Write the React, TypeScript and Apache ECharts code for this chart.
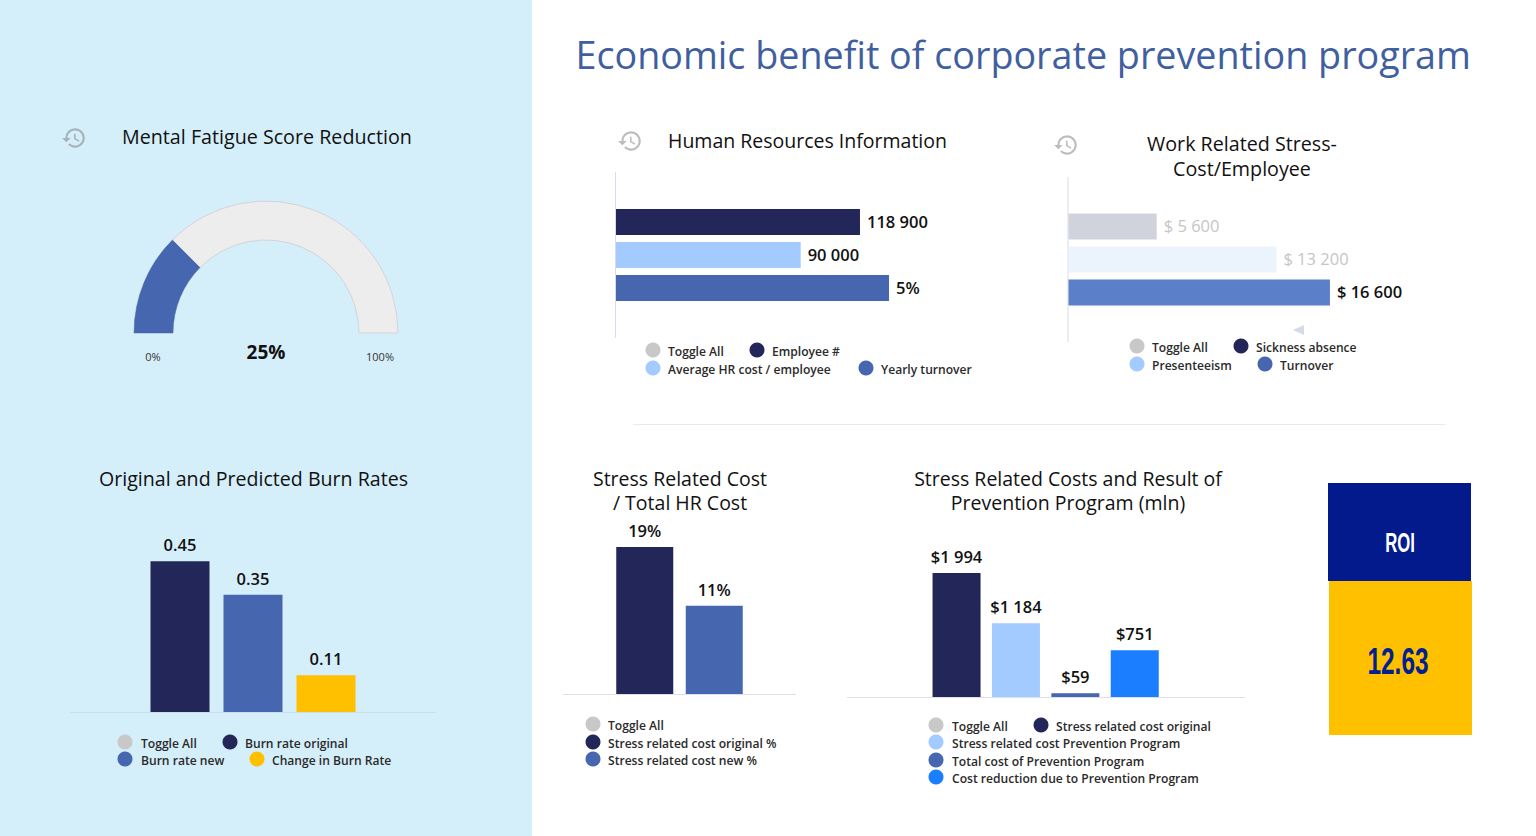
import React, { useEffect, useRef } from "react";
import * as echarts from "echarts";

const FONT = '"Open Sans", sans-serif';
const NARROW = '"Liberation Sans", sans-serif';
const NAVY = "#222658", BLUE = "#4666AF", LIGHT = "#A3CBFF", BRIGHT = "#1A7EFF", AMBER = "#FFC000", TOGGLE = "#C8C8C8";

const pageTitle = "Economic benefit of corporate prevention program";
const gaugeValue = 25;

const hrCats = ["Employee #", "Average HR cost / employee", "Yearly turnover"];
const hrAmounts = [118900, 90000, null];
const hrPercent = [null, null, 5];

const stressCats = ["Sickness absence", "Presenteeism", "Turnover"];
const stressValues = [5600, 13200, 16600];
const stressLabels = ["$ 5 600", "$ 13 200", "$ 16 600"];

const burnCats = ["Burn rate original", "Burn rate new", "Change in Burn Rate"];
const burnValues = [0.45, 0.35, 0.11];

const ratioCats = ["Stress related cost original %", "Stress related cost new %"];
const ratioValues = [19, 11.4];
const ratioLabels = ["19%", "11%"];

const costCats = ["Stress related cost original", "Stress related cost Prevention Program", "Total cost of Prevention Program", "Cost reduction due to Prevention Program"];
const costValues = [1994, 1184, 59, 751];
const costLabels = ["$1 994", "$1 184", "$59", "$751"];

const roiLabel = "ROI";
const roiValue = "12.63";

const HISTORY = "M13 3a9 9 0 0 0-9 9H1l3.89 3.89.07.14L9 12H6c0-3.87 3.13-7 7-7s7 3.13 7 7-3.13 7-7 7c-1.93 0-3.68-.79-4.94-2.06l-1.42 1.42C8.27 19.99 10.51 21 13 21c4.97 0 9-4.03 9-9s-4.03-9-9-9zm-1 5v5l4.28 2.54.72-1.21-3.5-2.08V8H12z";
echarts.graphic.registerShape("historyIcon", echarts.graphic.extendPath(HISTORY, {}));

const text = (t: string, x: number, y: number, size: number, fill: string, weight: any = 400, align = "left", family = FONT, scaleX = 1) => ({
  type: "text", x, y, z: 5, scaleX,
  style: { text: t, fontSize: size, fontWeight: weight, fill, fontFamily: family, textAlign: align, textVerticalAlign: "middle" },
});
const line = (x1: number, y1: number, x2: number, y2: number, stroke: string, lineWidth = 1) => ({
  type: "line", z: 1, shape: { x1, y1, x2, y2 }, style: { stroke, lineWidth },
});
const icon = (x: number, y: number, fill: string) => ({
  type: "historyIcon", x, y, scaleX: 1.08, scaleY: 1.08, z: 5, style: { fill },
});
const legend = (items: [string, string, number, number, number][]) =>
  items.flatMap(([name, color, cx, tx, y]) => [
    { type: "circle", z: 5, shape: { cx, cy: y - 1, r: 7.5 }, style: { fill: color } },
    text(name, tx, y, 12.1, "#2A2A2A", 600),
  ]);

function vbarGrid(left: number, width: number, baseline: number, height: number) {
  return { left, width, top: baseline - height, height, containLabel: false };
}
function vbarSeries(xIdx: number, yIdx: number, values: number[], colors: string[], barWidth: number, labels?: string[]) {
  return {
    type: "bar", xAxisIndex: xIdx, yAxisIndex: yIdx, barWidth, silent: true,
    data: values.map((value, i) => ({ value, itemStyle: { color: colors[i] } })),
    label: {
      show: true, position: "top", distance: 8, color: "#111", fontFamily: FONT, fontWeight: 600, fontSize: 16.5,
      formatter: (p: any) => (labels ? labels[p.dataIndex] : String(p.value)),
    },
  };
}
const hiddenCat = (cats: string[], gridIndex: number, extra: any = {}) => ({ type: "category", data: cats, gridIndex, show: false, ...extra });
const hiddenVal = (gridIndex: number, max: number) => ({ type: "value", gridIndex, min: 0, max, show: false, splitLine: { show: false } });

export default function App() {
  const ref = useRef<HTMLDivElement>(null);
  useEffect(() => {
    document.body.style.margin = "0";
    const chart = echarts.init(ref.current!, null, { renderer: "svg" });
    const hrLabel = (p: any) => (p.seriesIndex === 1 ? `${p.value}%` : String(p.value).replace(/(\d)(\d{3})$/, "$1 $2"));
    const hLabel = { show: true, position: "right", distance: 7, offset: [0, -1], fontFamily: FONT, fontWeight: 600, fontSize: 16.5, color: "#111" };
    chart.setOption({
      animation: false,
      backgroundColor: "#FFFFFF",
      grid: [
        { left: 616, width: 307.8, top: 205.5, height: 99 },
        { left: 1068.5, width: 315, top: 210, height: 99 },
        vbarGrid(143.5, 219, 712, 150.75),
        vbarGrid(610, 139, 694, 154.8),
        vbarGrid(926.85, 237.6, 697, 124.4),
      ],
      xAxis: [
        hiddenVal(0, 150000),
        hiddenVal(0, 5.637),
        hiddenVal(1, 20000),
        hiddenCat(burnCats, 2),
        hiddenCat(ratioCats, 3),
        hiddenCat(costCats, 4),
      ],
      yAxis: [
        hiddenCat(hrCats, 0, { inverse: true }),
        hiddenCat(stressCats, 1, { inverse: true }),
        hiddenVal(2, 0.45),
        hiddenVal(3, 20),
        hiddenVal(4, 2000),
      ],
      series: [
        {
          type: "bar", xAxisIndex: 0, yAxisIndex: 0, barWidth: 26, barGap: "-100%", silent: true,
          data: hrAmounts.map((value, i) => ({ value, itemStyle: { color: [NAVY, LIGHT][i] } })),
          label: { ...hLabel, formatter: hrLabel },
        },
        {
          type: "bar", xAxisIndex: 1, yAxisIndex: 0, barWidth: 26, barGap: "-100%", silent: true,
          data: hrPercent.map((value) => ({ value, itemStyle: { color: BLUE } })),
          label: { ...hLabel, formatter: hrLabel },
        },
        {
          type: "bar", xAxisIndex: 2, yAxisIndex: 1, barWidth: 26, silent: true,
          data: stressValues.map((value, i) => ({
            value,
            itemStyle: { color: ["#D0D3DB", "#EBF4FD", "#5B7FC9"][i] },
            label: { color: i < 2 ? "#C6C6C6" : "#111", fontWeight: i < 2 ? 400 : 600 },
          })),
          label: { ...hLabel, formatter: (p: any) => stressLabels[p.dataIndex] },
        },
        vbarSeries(3, 2, burnValues, [NAVY, BLUE, AMBER], 59),
        vbarSeries(4, 3, ratioValues, [NAVY, BLUE], 57, ratioLabels),
        vbarSeries(5, 4, costValues, [NAVY, LIGHT, BLUE, BRIGHT], 48, costLabels),
        {
          type: "pie", center: [266, 333], radius: [93, 132], startAngle: 180, endAngle: 0, clockwise: true,
          silent: true, label: { show: false }, labelLine: { show: false },
          data: [
            { value: gaugeValue, itemStyle: { color: BLUE, borderColor: BLUE, borderWidth: 0.5 } },
            { value: 100 - gaugeValue, itemStyle: { color: "#EDEDED", borderColor: "#D3D3D8", borderWidth: 1 } },
          ],
        },
      ],
      graphic: [
        { type: "rect", z: -1, shape: { x: 0, y: 0, width: 532, height: 836 }, style: { fill: "#D5EFFA" } },
        text(pageTitle, 575.5, 54.5, 37.7, "#3F5F9F"),
        line(633, 424.5, 1445, 424.5, "#E9E9EE"),
        icon(61, 125, "#A6B3BA"),
        icon(617, 128, "#BDBDBD"),
        icon(1053, 132, "#BDBDBD"),
        text("Mental Fatigue Score Reduction", 122, 136.5, 19.7, "#111"),
        text("Human Resources Information", 668, 140, 19.5, "#111"),
        text("Work Related Stress-", 1242, 143.5, 19.7, "#111", 400, "center"),
        text("Cost/Employee", 1242, 168.5, 19.7, "#111", 400, "center"),
        text("Original and Predicted Burn Rates", 253.5, 478, 19.6, "#111", 400, "center"),
        text("Stress Related Cost", 680, 478, 19.5, "#111", 400, "center"),
        text("/ Total HR Cost", 680, 502, 19.5, "#111", 400, "center"),
        text("Stress Related Costs and Result of", 1068, 478, 19.5, "#111", 400, "center"),
        text("Prevention Program (mln)", 1068, 502, 19.5, "#111", 400, "center"),
        text("0%", 153, 356, 11, "#333", 400, "center"),
        text("100%", 380, 356, 11, "#333", 400, "center"),
        text(`${gaugeValue}%`, 266, 351.5, 19, "#111", 700, "center"),
        line(615.5, 172, 615.5, 338, "#D9DBE8"),
        line(1068, 177, 1068, 342, "#D9DBE8"),
        line(70, 712.5, 436, 712.5, "#CDDDE8"),
        line(563, 694.5, 796, 694.5, "#DDE0EC"),
        line(847, 697.5, 1245, 697.5, "#DDE0EC"),
        { type: "polygon", z: 1, shape: { points: [[1293, 330], [1304, 325], [1304, 335]] }, style: { fill: "#D5DAEA" } },
        ...legend([
          ["Toggle All", TOGGLE, 653, 668, 351], [hrCats[0], NAVY, 757, 772, 351],
          [hrCats[1], LIGHT, 653, 668, 369], [hrCats[2], BLUE, 866, 881, 369],
          ["Toggle All", TOGGLE, 1137, 1152, 347], [stressCats[0], NAVY, 1241, 1256, 347],
          [stressCats[1], LIGHT, 1137, 1152, 365], [stressCats[2], BLUE, 1265, 1280, 365],
          ["Toggle All", TOGGLE, 125, 141, 743], [burnCats[0], NAVY, 230, 245, 743],
          [burnCats[1], BLUE, 125, 141, 760], [burnCats[2], AMBER, 257, 272, 760],
          ["Toggle All", TOGGLE, 593, 608, 725], [ratioCats[0], NAVY, 593, 608, 743],
          [ratioCats[1], BLUE, 593, 608, 760],
          ["Toggle All", TOGGLE, 936, 952, 726], [costCats[0], NAVY, 1041, 1056, 726],
          [costCats[1], LIGHT, 936, 952, 743], [costCats[2], BLUE, 936, 952, 761],
          [costCats[3], BRIGHT, 936, 952, 778],
        ]),
        { type: "rect", z: 3, shape: { x: 1328, y: 483, width: 143, height: 98 }, style: { fill: "#021A8C" } },
        { type: "rect", z: 3, shape: { x: 1329, y: 581, width: 143, height: 154 }, style: { fill: AMBER } },
        text(roiLabel, 1400, 543, 27, "#FFFFFF", 700, "center", NARROW, 0.62),
        text(roiValue, 1398, 662, 37, "#02208F", 700, "center", NARROW, 0.66),
      ],
    });
    return () => chart.dispose();
  }, []);
  return <div ref={ref} style={{ position: "fixed", left: 0, top: 0, width: 1536, height: 836 }} />;
}
